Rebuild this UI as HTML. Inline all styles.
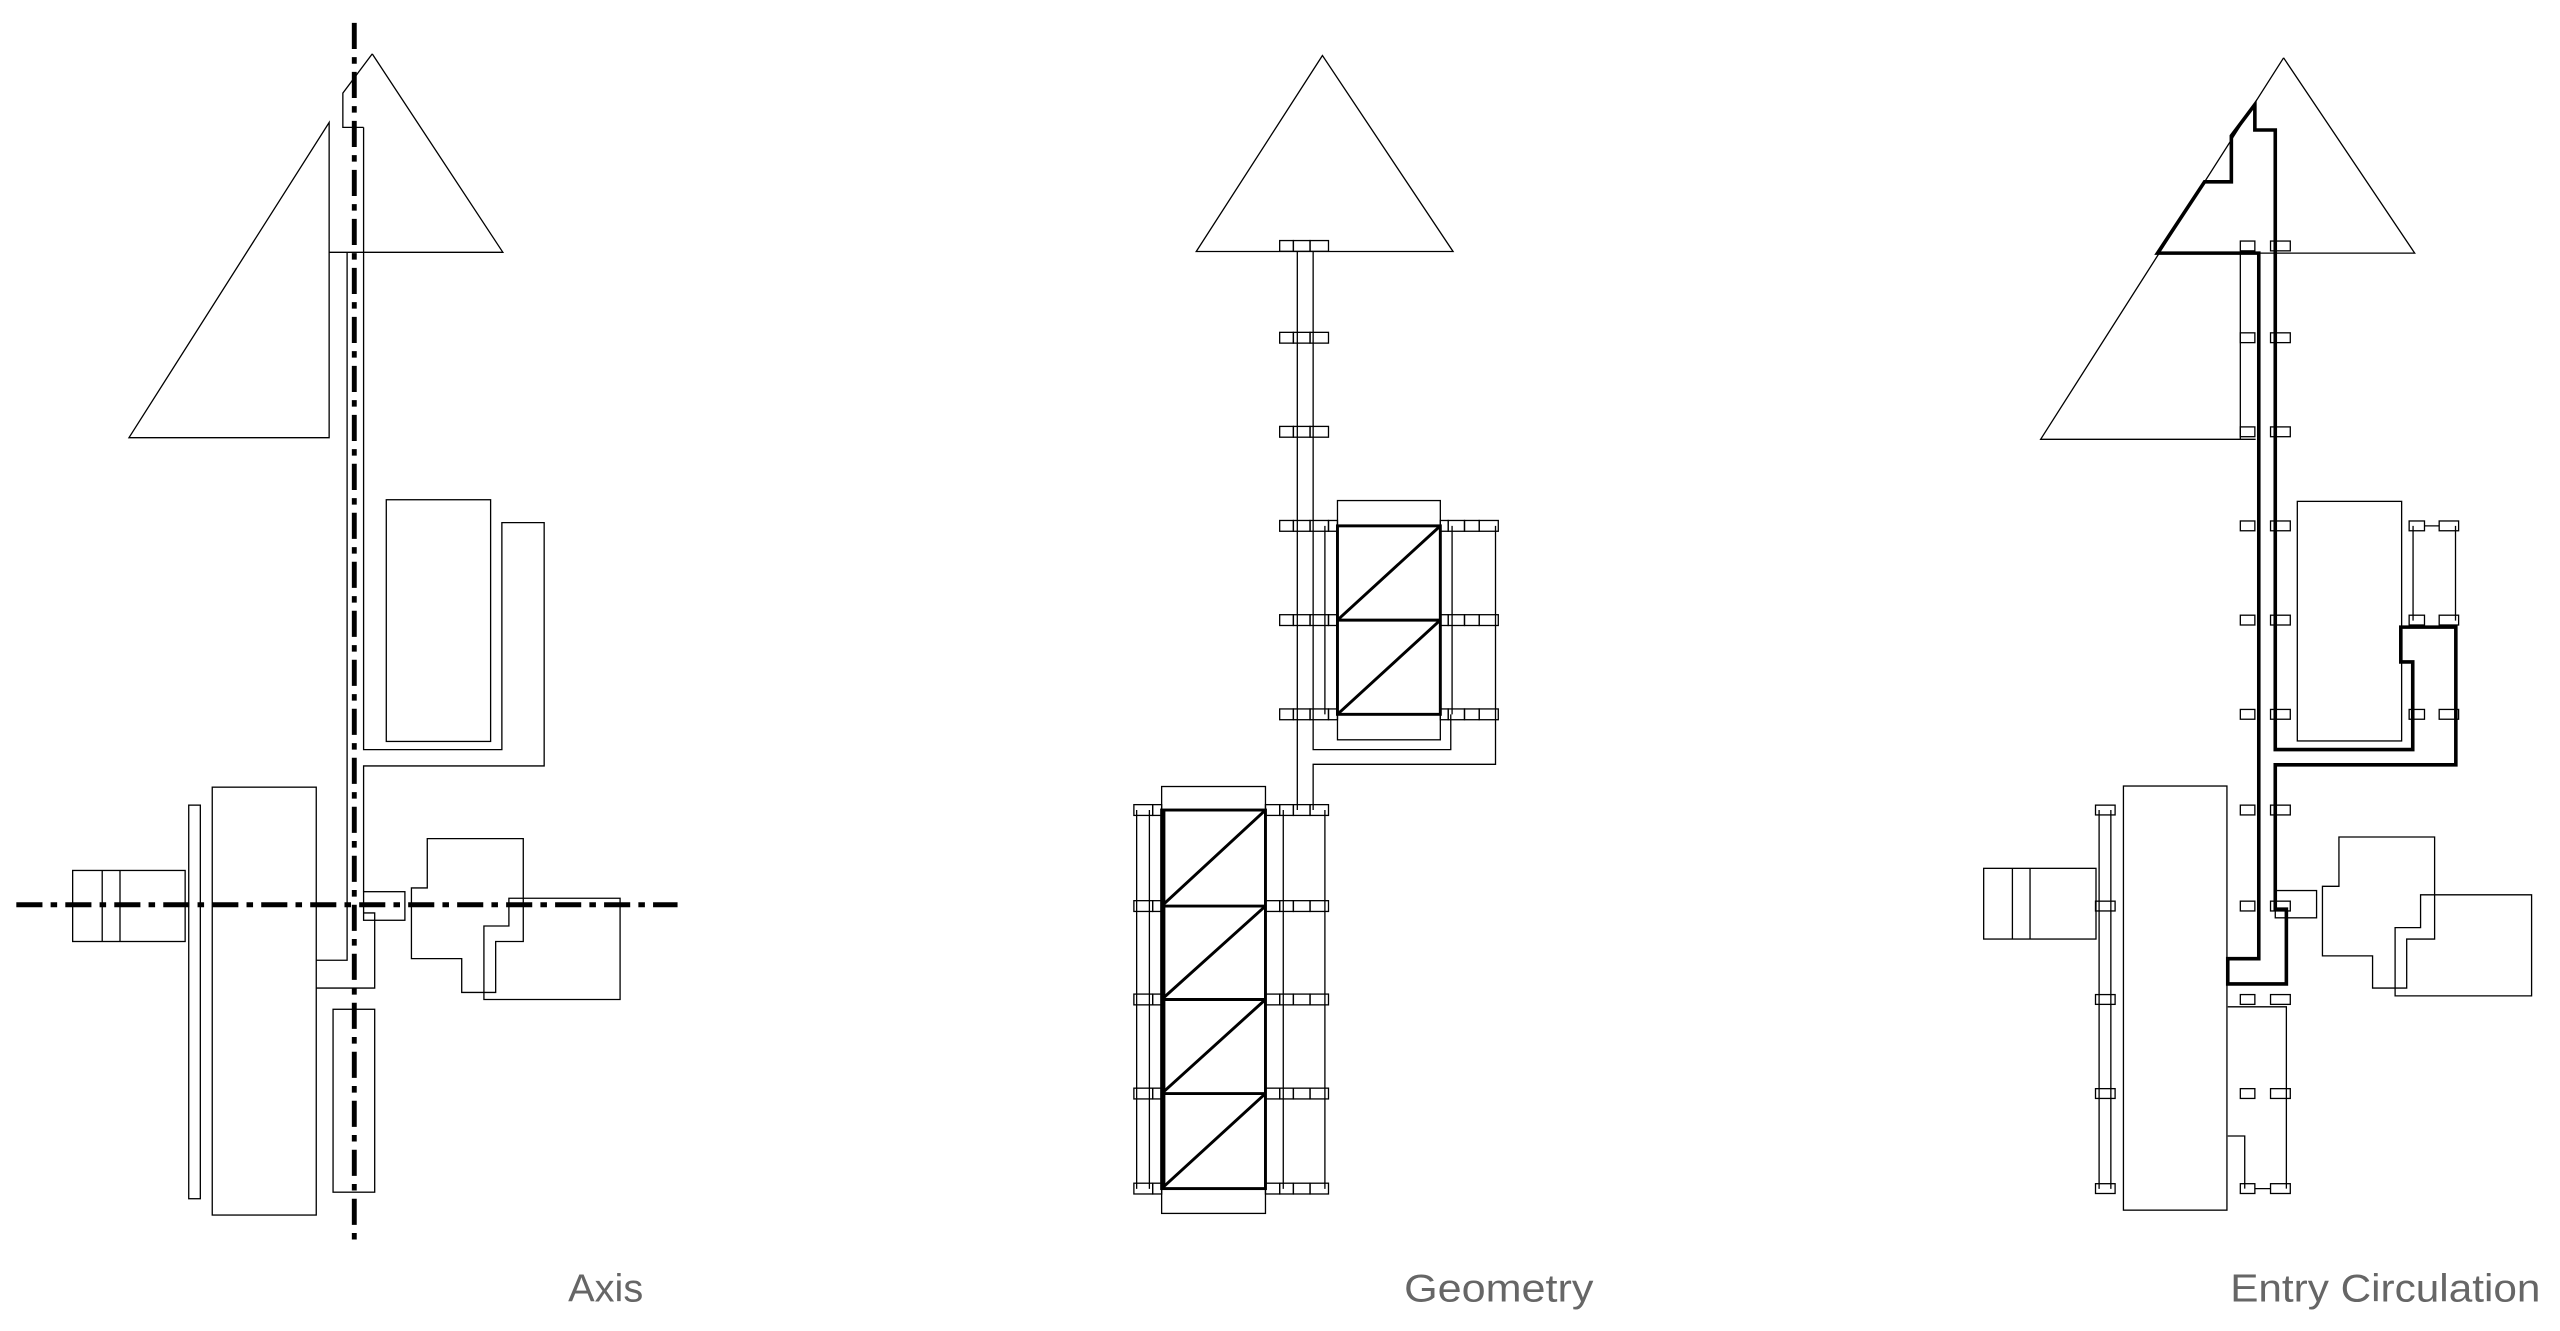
<!DOCTYPE html>
<html><head><meta charset="utf-8"><style>
html,body{margin:0;padding:0;background:#fff;}
svg{display:block;}
</style></head><body>
<svg width="2560" height="1331" viewBox="0 0 1568 815" preserveAspectRatio="none" xmlns="http://www.w3.org/2000/svg">
<rect width="1568" height="815" fill="#fff"/>
<defs>
<g id="gA"><rect x="783.8" y="-3.3" width="8.4" height="6.6"/><rect x="792.2" y="-3.3" width="10.2" height="6.6"/><rect x="802.4" y="-3.3" width="11.3" height="6.6"/></g>
<g id="gB"><use href="#gA"/><rect x="813.7" y="-3.3" width="5.5" height="6.6"/><rect x="882.2" y="-3.3" width="4.8" height="6.6"/><rect x="887" y="-3.3" width="10" height="6.6"/><rect x="897" y="-3.3" width="9" height="6.6"/><rect x="906" y="-3.3" width="11.7" height="6.6"/></g>
<g id="gC"><use href="#gA"/><rect x="775.1" y="-3.3" width="8.7" height="6.6"/><rect x="694.5" y="-3.3" width="11.5" height="6.6"/><rect x="706" y="-3.3" width="5.5" height="6.6"/></g>
<g id="eA"><rect x="1372.2" y="-3" width="8.9" height="6"/><rect x="1390.7" y="-3" width="12.1" height="6"/></g>
<g id="eL"><rect x="1283.5" y="-3" width="12" height="6"/></g>
</defs>

<g fill="none" stroke="#000" stroke-width="0.8">
<!-- AXIS PANEL -->
<path d="M228,33 L308,154.5 L201.6,154.5"/>
<path d="M228,33 L210,57 L210,78 L222.7,78"/>
<path d="M201.6,75 L79,268 L201.6,268 Z"/>
<path d="M212.6,154.5 L212.6,588 L193.7,588"/>
<path d="M222.7,78 L222.7,459 L307.4,459 L307.4,320 L333.3,320 L333.3,469 L222.7,469 L222.7,546"/>
<rect x="236.6" y="306" width="63.9" height="148"/>
<rect x="222.7" y="546" width="25.3" height="17.5"/>
<path d="M222.7,559 L229.5,559 L229.5,605 L193.7,605"/>
<rect x="130" y="482" width="63.7" height="262"/>
<rect x="115.6" y="493" width="7.1" height="241"/>
<rect x="44.5" y="533" width="68.9" height="43.5"/>
<path d="M62.6,533 V576.5 M73.5,533 V576.5"/>
<rect x="204" y="618" width="25.5" height="112"/>
<path d="M261.7,513.5 L320.5,513.5 L320.5,576.5 L303.6,576.5 L303.6,607.7 L282.8,607.7 L282.8,587 L252,587 L252,543.7 L261.7,543.7 Z"/>
<path d="M311.7,550 L379.8,550 L379.8,612 L296.4,612 L296.4,567 L311.7,567 Z"/>
</g>
<g stroke="#000" stroke-width="3" stroke-dasharray="16 5 4 5" fill="none">
<path d="M217,14 V762"/>
<path d="M10,554 H415"/>
</g>

<!-- GEOMETRY PANEL -->
<g fill="none" stroke="#000" stroke-width="0.8">
<path d="M810,34 L732.7,154 L890,154 Z"/>
<path d="M794.6,154 V496 M804.3,154 V459 L888.6,459 V437.4 M804.3,496 V468 L916,468 V322 M889.4,322 V437.4 M811.5,322 V437.4"/>
<rect x="819.2" y="306.5" width="63" height="146.5"/>
<rect x="711.5" y="481.6" width="63.6" height="261.4"/>
<path d="M786,496 V728 M811.5,496 V728 M696.2,496 V728 M704,496 V728"/>
<use href="#gA" y="150.6"/><use href="#gA" y="206.8"/><use href="#gA" y="264.4"/>
<use href="#gB" y="322"/><use href="#gB" y="379.7"/><use href="#gB" y="437.4"/>
<use href="#gC" y="496"/><use href="#gC" y="554.8"/><use href="#gC" y="612"/><use href="#gC" y="669.6"/><use href="#gC" y="727.8"/>
</g>
<g fill="none" stroke="#000" stroke-width="1.8">
<rect x="819.2" y="322" width="63" height="115.4"/>
<path d="M819.2,379.7 H882.2 M819.2,379.7 L882.2,322 M819.2,437.4 L882.2,379.7"/>
<rect x="711.5" y="496" width="63.6" height="231.8"/>
<path d="M711.5,554.8 H775.1 M711.5,612 H775.1 M711.5,669.6 H775.1"/>
<path d="M711.5,554.8 L775.1,496 M711.5,612 L775.1,554.8 M711.5,669.6 L775.1,612 M711.5,727.8 L775.1,669.6"/>
<path d="M712.5,496 V728" stroke-width="2.6"/>
</g>

<!-- ENTRY CIRCULATION PANEL -->
<g fill="none" stroke="#000" stroke-width="0.8">
<path d="M1398.7,35.4 L1479,155 L1321.5,155"/>
<path d="M1398.7,35.4 L1249.9,269 L1381.6,269"/>
<path d="M1372.2,155 V269"/>
<use href="#eA" y="150.6"/><use href="#eA" y="206.8"/><use href="#eA" y="264.4"/><use href="#eA" y="322"/><use href="#eA" y="379.7"/><use href="#eA" y="437.4"/><use href="#eA" y="496"/><use href="#eA" y="554.8"/><use href="#eA" y="612"/><use href="#eA" y="669.6"/><use href="#eA" y="727.8"/>
<rect x="1475.6" y="319" width="9.4" height="6"/><rect x="1494" y="319" width="11.9" height="6"/>
<rect x="1475.6" y="376.7" width="9.4" height="6"/><rect x="1494" y="376.7" width="11.9" height="6"/>
<rect x="1475.6" y="434.4" width="9.4" height="6"/><rect x="1494" y="434.4" width="11.9" height="6"/>
<path d="M1478,322 V380 M1504,322 V380 M1485,322 H1494"/>
<rect x="1407.1" y="307" width="63.9" height="146.7"/>
<rect x="1300.6" y="481.3" width="63.4" height="259.7"/>
<use href="#eL" y="496"/><use href="#eL" y="554.8"/><use href="#eL" y="612"/><use href="#eL" y="669.6"/><use href="#eL" y="727.8"/>
<path d="M1285.7,496 V728 M1292.9,496 V728"/>
<rect x="1215" y="531.7" width="68.8" height="43.3"/>
<path d="M1232.6,531.7 V575 M1243.4,531.7 V575"/>
<path d="M1364.5,616.5 H1400.4 V727.8 M1364.5,695.6 H1374.9 V727.8 M1381.1,727.8 H1390.7"/>
<rect x="1393.6" y="545.3" width="25.3" height="16.7"/>
<path d="M1432.6,512.5 L1491.2,512.5 L1491.2,575 L1474.1,575 L1474.1,605 L1453.2,605 L1453.2,585.3 L1422.5,585.3 L1422.5,542.7 L1432.6,542.7 Z"/>
<path d="M1482.6,547.9 L1550.6,547.9 L1550.6,609.8 L1467,609.8 L1467,568 L1482.6,568 Z"/>
</g>
<path d="M1321.5,155 L1350.3,111.3 L1366.7,111.3 L1366.7,83.2 L1381.1,64 L1381.1,79.6 L1393.6,79.6 L1393.6,459 L1477.8,459 L1477.8,405.3 L1470.5,405.3 L1470.5,384 L1504.2,384 L1504.2,468.3 L1393.6,468.3 L1393.6,556.7 L1400.4,556.7 L1400.4,602.5 L1364.5,602.5 L1364.5,587 L1383.5,587 L1383.5,155 Z" fill="none" stroke="#000" stroke-width="2.2" stroke-linejoin="miter"/>

<g font-family="Liberation Sans, sans-serif" font-size="24" fill="#666">
<text x="348" y="797" textLength="46" lengthAdjust="spacingAndGlyphs">Axis</text>
<text x="860" y="797" textLength="116" lengthAdjust="spacingAndGlyphs">Geometry</text>
<text x="1366" y="797" textLength="190" lengthAdjust="spacingAndGlyphs">Entry Circulation</text>
</g>
</svg>
</body></html>
